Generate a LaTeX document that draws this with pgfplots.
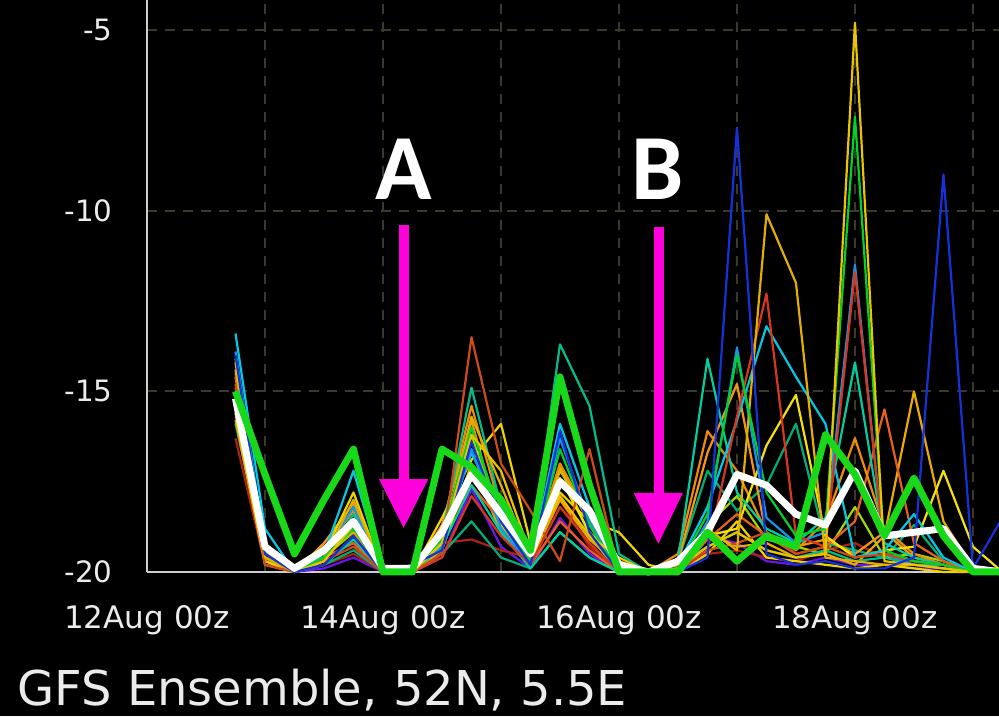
\documentclass[border=0pt]{standalone}
\usepackage{pgfplots}
\pgfplotsset{compat=1.18}
\usepackage{pgfplotstable}
\usepackage{fontspec}
\setmainfont{DejaVu Sans}
\newfontfamily\carlito{Carlito}
\definecolor{gridc}{RGB}{58,58,44}
\definecolor{axisc}{RGB}{205,205,205}
\definecolor{txt}{RGB}{235,235,235}
\definecolor{mag}{RGB}{255,0,220}
\definecolor{c1}{RGB}{20,50,215}
\definecolor{c2}{RGB}{225,175,0}
\definecolor{c3}{RGB}{205,75,25}
\definecolor{c4}{RGB}{0,190,140}
\definecolor{c5}{RGB}{0,205,160}
\definecolor{c6}{RGB}{240,210,0}
\definecolor{c7}{RGB}{0,210,40}
\definecolor{c8}{RGB}{20,150,235}
\definecolor{c9}{RGB}{215,55,30}
\definecolor{c10}{RGB}{235,195,0}
\definecolor{c11}{RGB}{240,140,0}
\definecolor{c12}{RGB}{235,95,30}
\definecolor{c13}{RGB}{235,170,0}
\definecolor{c14}{RGB}{245,225,10}
\definecolor{c15}{RGB}{0,175,120}
\definecolor{c16}{RGB}{0,200,230}
\definecolor{c17}{RGB}{245,150,20}
\definecolor{c18}{RGB}{110,20,230}
\definecolor{c19}{RGB}{170,35,20}
\definecolor{c20}{RGB}{160,215,0}
\definecolor{ctrlc}{RGB}{25,215,25}

\pgfplotstableread{
t m1 m2 m3 m4 m5 m6 m7 m8 m9 m10 m11 m12 m13 m14 m15 m16 m17 m18 m19 m20 mean ctrl
18 -14.0 -14.4 -14.8 -15.0 -15.3 -15.6 -15.2 -13.9 -14.5 -14.2 -14.6 -14.9 -15.8 -15.4 -15.9 -13.4 -14.1 -15.7 -16.3 -15.5 -15.2 -15.0
24 -19.5 -19.6 -19.8 -19.2 -19.4 -19.7 -19.5 -19.3 -19.6 -19.4 -19.5 -19.7 -19.8 -19.6 -19.5 -18.8 -19.4 -19.7 -19.8 -19.6 -19.3 -17.3
30 -20 -20 -20 -20 -20 -20 -20 -20 -20 -20 -20 -20 -20 -20 -20 -20 -20 -20 -20 -20 -19.9 -19.5
36 -19.8 -19.6 -19.7 -19.6 -19.8 -19.5 -19.6 -19.5 -19.8 -19.7 -19.4 -19.6 -19.3 -19.7 -19.8 -19.5 -19.2 -19.9 -19.8 -19.6 -19.4 -18.0
42 -19.0 -18.0 -19.3 -18.4 -19.1 -17.8 -18.8 -18.2 -19.0 -18.7 -18.3 -19.2 -18.9 -18.6 -19.4 -17.2 -18.1 -19.6 -19.5 -18.9 -18.6 -16.6
48 -20 -20 -20 -20 -20 -20 -20 -20 -20 -20 -20 -20 -20 -20 -20 -20 -20 -20 -20 -20 -19.9 -20
54 -19.8 -20 -20 -20 -20 -20 -20 -19.8 -20 -20 -20 -20 -20 -20 -20 -20 -20 -20 -20 -20 -19.9 -20
60 -19.4 -19.2 -19.5 -19.0 -19.3 -18.5 -19.1 -19.3 -19.6 -19.2 -18.8 -19.0 -19.4 -19.3 -19.5 -19.0 -18.7 -19.6 -19.2 -19.2 -18.9 -16.6
66 -16.4 -15.7 -13.5 -14.9 -17.6 -16.9 -16.0 -16.6 -17.9 -16.2 -15.4 -17.6 -17.0 -17.2 -18.6 -16.7 -15.8 -17.7 -19.1 -16.2 -17.3 -17.1
72 -18.6 -17.6 -17.0 -18.2 -18.9 -15.9 -18.5 -18.8 -19.0 -17.2 -18.3 -18.6 -18.9 -18.0 -19.6 -18.4 -18.8 -19.3 -19.4 -18.7 -18.4 -18.0
78 -19.8 -19.6 -18.3 -19.6 -19.9 -19.2 -19.7 -19.8 -19.8 -19.5 -19.6 -19.8 -19.7 -19.7 -19.9 -19.7 -19.8 -19.9 -19.6 -19.8 -19.5 -19.4
84 -16.1 -17.2 -19.7 -13.7 -18.9 -17.8 -16.6 -16.3 -18.2 -17.9 -17.0 -18.6 -18.0 -17.4 -18.9 -15.9 -17.0 -18.5 -18.0 -17.1 -17.5 -14.6
90 -18.9 -18.4 -16.6 -15.4 -19.6 -18.6 -18.7 -18.6 -19.2 -19.0 -18.5 -19.4 -19.1 -18.9 -19.6 -18.2 -18.7 -19.5 -19.3 -19.0 -18.3 -17.6
96 -20 -19.8 -20 -19.5 -20 -18.9 -20 -20 -20 -19.6 -20 -20 -19.8 -19.7 -20 -20 -20 -20 -20 -20 -19.8 -20
102 -20 -20 -20 -20 -20 -19.8 -20 -20 -20 -20 -20 -20 -20 -20 -20 -20 -20 -20 -20 -20 -20 -20
108 -20 -19.8 -19.9 -19.8 -19.7 -20 -19.9 -20 -20 -19.9 -19.5 -20 -19.8 -19.8 -19.7 -19.8 -19.7 -19.9 -20 -19.9 -19.7 -20
114 -19.6 -18.8 -19.4 -19.3 -14.1 -19.5 -18.4 -18.6 -19.4 -19.3 -16.1 -19.1 -18.9 -19.0 -17.2 -18.2 -16.7 -19.0 -19.5 -18.7 -18.9 -18.9
120 -7.7 -19.4 -19.2 -18.9 -17.8 -18.6 -14.0 -13.8 -15.7 -18.9 -17.2 -18.4 -19.3 -18.8 -18.3 -15.8 -14.8 -19.2 -19.4 -17.9 -17.3 -19.7
126 -19.5 -10.1 -18.9 -19.4 -18.8 -19.6 -17.8 -18.5 -12.3 -19.4 -18.9 -19.0 -19.2 -16.5 -17.6 -13.2 -19.0 -19.7 -19.6 -19.1 -17.6 -19.0
132 -19.8 -12.0 -19.5 -19.6 -19.2 -19.7 -19.0 -19.2 -19.0 -19.6 -19.4 -19.5 -19.6 -15.1 -15.9 -14.6 -19.3 -19.8 -19.7 -19.3 -18.4 -19.3
138 -19.7 -19.6 -19.3 -19.4 -18.5 -19.8 -18.8 -18.9 -19.3 -19.5 -18.6 -19.3 -19.5 -19.0 -19.2 -15.9 -19.1 -19.6 -19.4 -19.5 -18.7 -16.2
144 -19.9 -19.7 -19.6 -19.7 -14.2 -19.9 -7.4 -11.5 -11.7 -4.8 -16.3 -18.6 -19.8 -19.6 -19.4 -19.6 -19.5 -19.8 -19.2 -18.2 -17.2 -17.3
150 -19.9 -19.8 -19.5 -19.6 -19.2 -19.8 -19.4 -19.5 -19.5 -19.7 -18.8 -15.5 -19.0 -19.4 -19.6 -19.4 -18.9 -19.8 -19.6 -19.6 -19.0 -19.0
156 -19.6 -19.8 -19.7 -19.8 -19.6 -19.9 -19.7 -19.8 -19.7 -19.8 -19.5 -19.2 -15.0 -19.3 -18.7 -18.4 -19.6 -19.9 -19.7 -19.5 -18.9 -17.4
162 -9.0 -19.9 -19.8 -19.8 -19.8 -20 -19.8 -19.9 -19.8 -19.9 -19.8 -19.7 -18.6 -17.2 -19.7 -19.6 -19.8 -19.9 -19.8 -19.7 -18.8 -19.0
168 -19.9 -20 -20 -20 -20 -20 -20 -20 -20 -20 -20 -20 -19.9 -19.3 -20 -20 -20 -20 -20 -20 -19.9 -20
174 -18.5 -20 -20 -20 -20 -20 -20 -20 -20 -20 -20 -20 -20 -20 -20 -20 -20 -20 -20 -20 -20 -20
}\gefs

\begin{document}
\begin{tikzpicture}
\fill[black] (0,0) rectangle (499.5pt,358pt);
\path[use as bounding box] (0,0) rectangle (499.5pt,358pt);
\begin{axis}[
  at={(73.5pt,72pt)}, anchor=south west,
  scale only axis, width=426pt, height=286pt,
  xmin=0, xmax=173.3, ymin=-20, ymax=-4.17,
  axis lines*=left,
  axis line style={draw=axisc, line width=1.2pt},
  xtick={0,24,...,168},
  xticklabels={12Aug 00z,,14Aug 00z,,16Aug 00z,,18Aug 00z,},
  ytick={-20,-15,-10,-5},
  yticklabels={-20,-15,-10,-5},
  major tick length=0pt,
  tick style={draw=none},
  grid=major,
  major grid style={draw=gridc, line width=0.9pt, dash pattern=on 5pt off 4pt},
  xticklabel style={font=\fontsize{15.5}{18}\selectfont, text=txt, anchor=north, inner sep=0pt, yshift=-16.5pt},
  yticklabel style={font=\fontsize{14.7}{18}\selectfont, text=txt, anchor=east, inner sep=0pt, xshift=-17pt},
  clip=false,
  every axis plot/.append style={line width=1.1pt, line join=round},
]
\addplot[c18] table[x=t,y=m18]{\gefs};
\addplot[c19] table[x=t,y=m19]{\gefs};
\addplot[c20] table[x=t,y=m20]{\gefs};
\addplot[c15] table[x=t,y=m15]{\gefs};
\addplot[c17] table[x=t,y=m17]{\gefs};
\addplot[c13] table[x=t,y=m13]{\gefs};
\addplot[c12] table[x=t,y=m12]{\gefs};
\addplot[c11] table[x=t,y=m11]{\gefs};
\addplot[c6] table[x=t,y=m6]{\gefs};
\addplot[c14] table[x=t,y=m14]{\gefs};
\addplot[c4] table[x=t,y=m4]{\gefs};
\addplot[c5] table[x=t,y=m5]{\gefs};
\addplot[c16] table[x=t,y=m16]{\gefs};
\addplot[c8] table[x=t,y=m8]{\gefs};
\addplot[c9] table[x=t,y=m9]{\gefs};
\addplot[c3] table[x=t,y=m3]{\gefs};
\addplot[c2] table[x=t,y=m2]{\gefs};
\addplot[c7] table[x=t,y=m7]{\gefs};
\addplot[c10] table[x=t,y=m10]{\gefs};
\addplot[c1] table[x=t,y=m1]{\gefs};
\addplot[white, line width=3.5pt] table[x=t,y=mean]{\gefs};
\addplot[ctrlc, line width=3.5pt] table[x=t,y=ctrl]{\gefs};
% annotations
\draw[mag, line width=5pt] (axis cs:52.2,-10.40) -- (axis cs:52.2,-17.45);
\fill[mag] (axis cs:47.2,-17.43) -- (axis cs:57.2,-17.43) -- (axis cs:52.2,-18.78) -- cycle;
\draw[mag, line width=5pt] (axis cs:104.1,-10.45) -- (axis cs:104.1,-17.83);
\fill[mag] (axis cs:99.0,-17.81) -- (axis cs:109.0,-17.81) -- (axis cs:104.0,-19.22) -- cycle;
\node[anchor=base, inner sep=0pt, text=white, font=\carlito\bfseries\fontsize{46.6}{50}\selectfont] at (axis cs:52.3,-9.70) {A};
\node[anchor=base, inner sep=0pt, text=white, font=\carlito\bfseries\fontsize{46.6}{50}\selectfont] at (axis cs:103.9,-9.70) {B};
\end{axis}
\node[anchor=base west, inner sep=0pt, text=txt, font=\fontsize{24}{28}\selectfont] at (8.5pt,5.2pt) {GFS Ensemble, 52N, 5.5E};
\end{tikzpicture}
\end{document}
